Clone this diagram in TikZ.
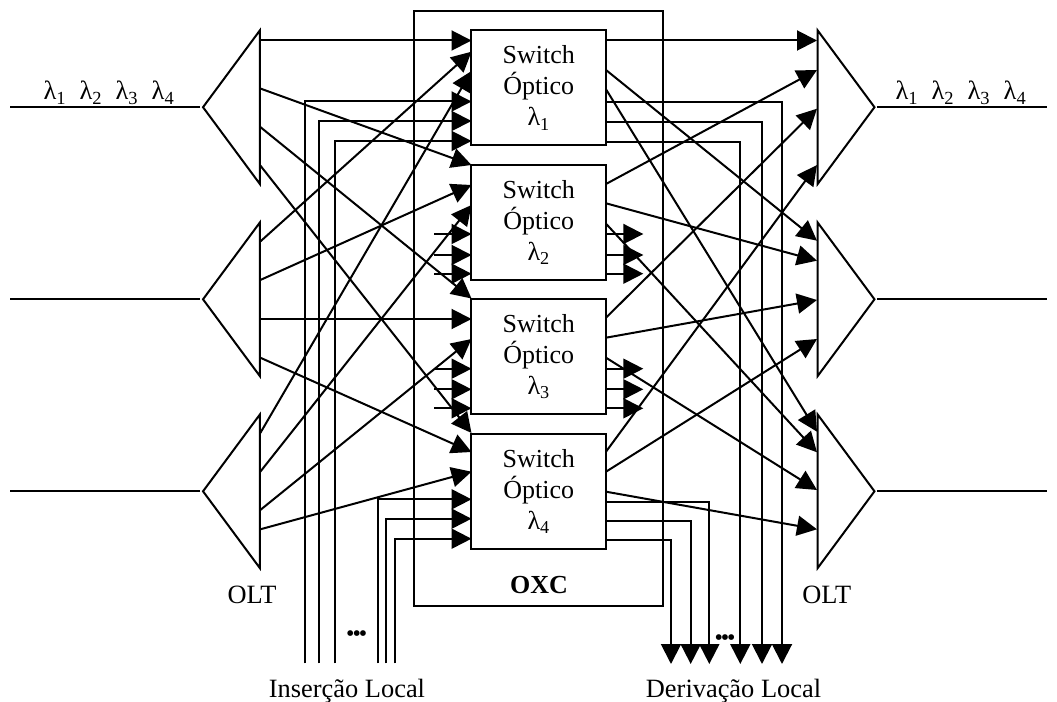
\documentclass[tikz,border=0pt]{standalone}
\usepackage{fontspec}
\setmainfont{Liberation Serif}
\usetikzlibrary{positioning,arrows.meta,shapes.geometric}
\newcommand{\lambdas}{λ\textsubscript{1}\hspace{10pt}λ\textsubscript{2}\hspace{10pt}λ\textsubscript{3}\hspace{10pt}λ\textsubscript{4}}
\newcommand{\tresp}{•\hspace{-1.6pt}•\hspace{-1.6pt}•}
\tikzset{
  chave/.style    = {draw, line width=1.5pt, align=center, inner sep=0pt, minimum width=100.9pt,
                     minimum height=86.25pt, font=\fontsize{19.5}{23.25}\selectfont},
  oxcbloco/.style = {draw, line width=1.5pt, minimum width=187pt, minimum height=446pt, inner sep=0pt},
  oltesq/.style   = {draw, line width=1.5pt, isosceles triangle, isosceles triangle stretches,
                     shape border rotate=180, inner sep=0pt, minimum height=42.6pt, minimum width=115.1pt},
  oltdir/.style   = {oltesq, shape border rotate=0},
  rotulo/.style   = {font=\fontsize{19.8}{22}\selectfont, inner sep=0pt, anchor=base},
  pontos/.style   = {font=\fontsize{18}{18}\selectfont, inner sep=0pt},
  seta/.style     = {-{Triangle[length=15pt,width=15pt]}, line width=1.5pt},
  linha/.style    = {line width=1.5pt}
}

\begin{document}
\begin{tikzpicture}[x=0.75pt, y=-0.75pt, node distance=13.05pt]
        \useasboundingbox (0,0) rectangle (1057,702);
        \node[oxcbloco] (oxc) at (538.7,308.8) {};
        \node[chave] (sw1) at (538.7,88) {Switch\\ Óptico\\ λ\textsubscript{1}};
        \node[chave, below=of sw1] (sw2) {Switch\\ Óptico\\ λ\textsubscript{2}};
        \node[chave, below=of sw2] (sw3) {Switch\\ Óptico\\ λ\textsubscript{3}};
        \node[chave, below=of sw3] (sw4) {Switch\\ Óptico\\ λ\textsubscript{4}};

        \node[oltesq] (le1) at (234.5,107.2) {};
        \node[oltesq] (le2) at (234.5,299.3) {};
        \node[oltesq] (le3) at (234.5,491.3) {};
        \node[oltdir] (ld1) at (843,107.2) {};
        \node[oltdir] (ld2) at (843,299.3) {};
        \node[oltdir] (ld3) at (843,491.3) {};

        \node[rotulo] (lamesq) at (109,100) {\lambdas};
        \node[rotulo] (lamdir) at (961,100) {\lambdas};
        \node[rotulo] (oltA) at (252,603) {OLT};
        \node[rotulo] (oltB) at (826.7,603) {OLT};
        \node[rotulo, font=\fontsize{19.5}{22}\selectfont\bfseries] (nomeoxc) at (539,593) {OXC};
        \node[rotulo] (insercao) at (347,697) {Inserção Local};
        \node[rotulo] (derivacao) at (733.5,697) {Derivação Local};
        \node[pontos] (ptsA) at (356.7,636) {\tresp};
        \node[pontos] (ptsB) at (725,640) {\tresp};

        % fibras de entrada e saida
        \coordinate (fe1) at (10,107.2);
        \coordinate (fe2) at (10,299.3);
        \coordinate (fe3) at (10,491.3);
        \coordinate (fd1) at (1047,107.2);
        \coordinate (fd2) at (1047,299.3);
        \coordinate (fd3) at (1047,491.3);
        \foreach \i in {1,2,3} {
            \draw[linha] (fe\i) -- (le\i.apex);
            \draw[linha] (ld\i.apex) -- (fd\i);
        }

        % portas dos OLT
        \foreach \y [count=\i] in {40.5,88.5,127,165.5,241.5,280,319,357.7,433,471.7,510,529.3}
            \coordinate (a\i) at (260.3,\y);
        \foreach \y [count=\i] in {40.5,165,298.5,433,51.7,185,319,452,71,205,339,471.7}
            \coordinate (b\i) at (471.5,\y);
        \foreach \i in {1,...,12}
            \draw[seta] (a\i) -- (b\i);

        \foreach \y [count=\i] in {40.5,70,89.3,184,203.3,223.7,317.7,337.7,357.7,451.7,471.7,491.7}
            \coordinate (c\i) at (606,\y);
        \foreach \y [count=\i] in {40.5,240.7,431.7,70,260.7,452.3,108.7,300,490,165,339,529.3}
            \coordinate (d\i) at (817,\y);
        \foreach \i in {1,...,12}
            \draw[seta] (c\i) -- (d\i);

        % insercao local
        \foreach \x/\y [count=\i] in {305/101.5,319/121,335/141,378.3/499.3,385.7/518.7,394.7/538.7} {
            \coordinate (ins\i) at (\x,663.3);
            \coordinate (ent\i) at (471.5,\y);
            \draw[seta] (ins\i) |- (ent\i);
        }
        % derivacao local
        \foreach \x/\y [count=\i] in {782/102,762/121.7,740.3/142,709.3/502,690.7/521,671/540} {
            \coordinate (sai\i) at (606,\y);
            \coordinate (der\i) at (\x,664);
            \draw[seta] (sai\i) -| (der\i);
        }

        % ligacoes curtas dos switches 2 e 3
        \foreach \y [count=\i] in {234,255,273.7,368.7,389.3,408.3} {
            \coordinate (ce\i) at (434,\y);
            \coordinate (pe\i) at (471.5,\y);
            \coordinate (cd\i) at (606,\y);
            \coordinate (pd\i) at (643.3,\y);
            \draw[seta] (ce\i) -- (pe\i);
            \draw[seta] (cd\i) -- (pd\i);
        }
    \end{tikzpicture}
\end{document}
